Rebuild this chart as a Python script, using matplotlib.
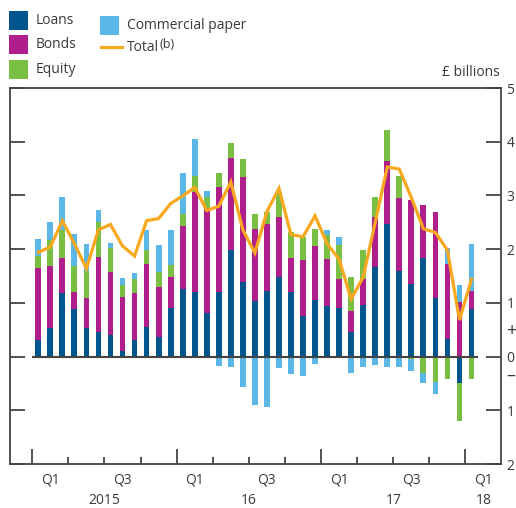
import numpy as np
import matplotlib
matplotlib.use('Agg')
from matplotlib import pyplot as plt
from matplotlib.patches import Rectangle

plt.rcParams['font.family'] = ['Open Sans', 'DejaVu Sans']

# monthly data, Jan 2015 to Jan 2018 (£ billions)
loans = [0.31, 0.54, 1.18, 0.88, 0.54, 0.46, 0.40, 0.10, 0.31, 0.55, 0.36, 0.90,
         1.25, 1.20, 0.81, 1.20, 1.99, 1.39, 1.03, 1.23, 1.49, 1.20, 0.75, 1.05,
         0.94, 0.90, 0.46, 0.96, 1.66, 2.46, 1.60, 1.35, 1.83, 1.09, 0.33, -0.50,
         0.89]
bonds = [1.33, 1.14, 0.65, 0.32, 0.55, 1.39, 1.17, 1.00, 0.87, 1.18, 0.93, 0.59,
         1.18, 1.87, 1.96, 1.96, 1.71, 1.96, 1.35, 1.23, 1.11, 0.63, 1.04, 1.00,
         0.87, 0.54, 0.39, 0.48, 0.93, 1.18, 1.36, 1.57, 1.00, 1.61, 1.39, 1.01,
         0.33]
equity = [0.24, 0.49, 0.53, 0.49, 0.50, 0.65, 0.46, 0.23, 0.26, 0.26, 0.28, 0.21,
          0.23, 0.29, 0.21, 0.26, 0.28, 0.33, 0.28, 0.24, 0.47, 0.48, 0.43, 0.33,
          0.46, 0.63, 0.63, 0.54, 0.39, 0.58, 0.40, -0.04, -0.31, -0.48, -0.41, -0.70,
          -0.41]
cpaper = [0.30, 0.34, 0.62, 0.60, 0.50, 0.23, 0.09, 0.13, 0.11, 0.37, 0.50, 0.65,
          0.76, 0.69, 0.11, -0.17, -0.20, -0.57, -0.91, -0.94, -0.22, -0.33, -0.37, -0.13,
          0.09, 0.16, -0.30, -0.20, -0.15, -0.20, -0.19, -0.22, -0.19, -0.21, 0.31, 0.32,
          0.87]
total = [1.94, 2.04, 2.53, 2.10, 1.64, 2.36, 2.46, 2.06, 1.87, 2.53, 2.57, 2.85,
         2.99, 3.15, 2.72, 2.80, 3.25, 2.36, 1.93, 2.70, 3.13, 2.27, 2.23, 2.62,
         2.10, 1.81, 1.07, 1.48, 2.50, 3.53, 3.49, 2.96, 2.38, 2.31, 1.98, 0.68,
         1.44]

series = [('Loans', loans, '#00568c'),
          ('Bonds', bonds, '#b01e8c'),
          ('Equity', equity, '#78bf44'),
          ('Commercial paper', cpaper, '#5bb7e6')]
total_col = '#f7a81e'
txt_col = '#3a3a3a'
axis_col = '#444444'

q_labels = ['Q1', 'Q3', 'Q1', 'Q3', 'Q1', 'Q3', 'Q1']
q_pos = [1, 7, 13, 19, 25, 31, 37]
year_labels = ['2015', '16', '17', '18']
year_pos = [5.5, 17.5, 29.5, 37]

x = np.arange(len(loans))

fig = plt.figure(figsize=(5.16, 5.08), dpi=100)
ax = fig.add_axes([10/516, 44/508, 491/516, 376/508])

pos_base = np.zeros(len(x))
neg_base = np.zeros(len(x))
for name, vals, col in series:
    v = np.array(vals)
    p = np.where(v > 0, v, 0)
    n = np.where(v < 0, v, 0)
    ax.bar(x, p, 0.48, bottom=pos_base, color=col, linewidth=0)
    ax.bar(x, n, 0.48, bottom=neg_base, color=col, linewidth=0)
    pos_base += p
    neg_base += n

ax.hlines(0, -0.5, 36.5, color=axis_col, lw=1.5, zorder=3)
ax.plot(x, total, color=total_col, lw=2.3, zorder=4, solid_joinstyle='miter')

ax.set_xlim(-2.35, 38.45)
ax.set_ylim(-2, 5)
for s in ax.spines.values():
    s.set_color(axis_col)
    s.set_linewidth(1.3)

ax.set_yticks(range(-2, 6))
ax.set_yticklabels([str(abs(v)) for v in range(-2, 6)])
ax.tick_params(axis='y', left=True, right=True, labelleft=False, labelright=True,
               direction='in', length=10.8, width=1.3, color=axis_col,
               labelsize=10, labelcolor=txt_col, pad=4)
ax.set_xticks([-0.5, 11.5, 23.5, 35.5])
ax.set_xticks([2.5, 5.5, 8.5, 14.5, 17.5, 20.5, 26.5, 29.5, 32.5], minor=True)
ax.tick_params(axis='x', which='major', direction='in', length=10.8, width=1.3,
               color=axis_col, labelbottom=False)
ax.tick_params(axis='x', which='minor', direction='in', length=5, width=1.3,
               color=axis_col)

ytr = ax.get_yaxis_transform()
ax.text(1.01, 0.47, '+', transform=ytr, ha='left', va='center', fontsize=13,
        color=txt_col, clip_on=False)
ax.text(1.01, -0.36, '–', transform=ytr, ha='left', va='center', fontsize=13,
        color=txt_col, clip_on=False)

for lab, p in zip(q_labels, q_pos):
    ax.annotate(lab, xy=(p, 0), xycoords=('data', 'axes fraction'),
                xytext=(0, -11.5), textcoords='offset points', ha='center',
                va='center', fontsize=10, color=txt_col)
for lab, p in zip(year_labels, year_pos):
    ax.annotate(lab, xy=(p, 0), xycoords=('data', 'axes fraction'),
                xytext=(0, -26), textcoords='offset points', ha='center',
                va='center', fontsize=10, color=txt_col)

# legend and unit label drawn in pixel space
ov = fig.add_axes([0, 0, 1, 1], zorder=-1)
ov.set_xlim(0, 516)
ov.set_ylim(508, 0)
ov.axis('off')
leg_pos = [(9, 11), (9, 35), (9, 60), (100, 16)]
for (name, vals, col), (lx, ly) in zip(series, leg_pos):
    ov.add_patch(Rectangle((lx, ly), 19, 19, color=col, lw=0))
    ov.text(lx + 27, ly + 9.5, name, ha='left', va='center', fontsize=10,
            color=txt_col)
ov.plot([101, 122], [47, 47], color=total_col, lw=2.3)
t = ov.text(127, 47.5, 'Total', ha='left', va='center', fontsize=10, color=txt_col)
ov.annotate('(b)', xy=(1, 0.7), xycoords=t, xytext=(0.5, 0),
            textcoords='offset points', ha='left', va='center', fontsize=9,
            color=txt_col)
ov.text(500, 73, '£ billions', ha='right', va='center', fontsize=10, color=txt_col)

fig.savefig('out.png', dpi=100)
